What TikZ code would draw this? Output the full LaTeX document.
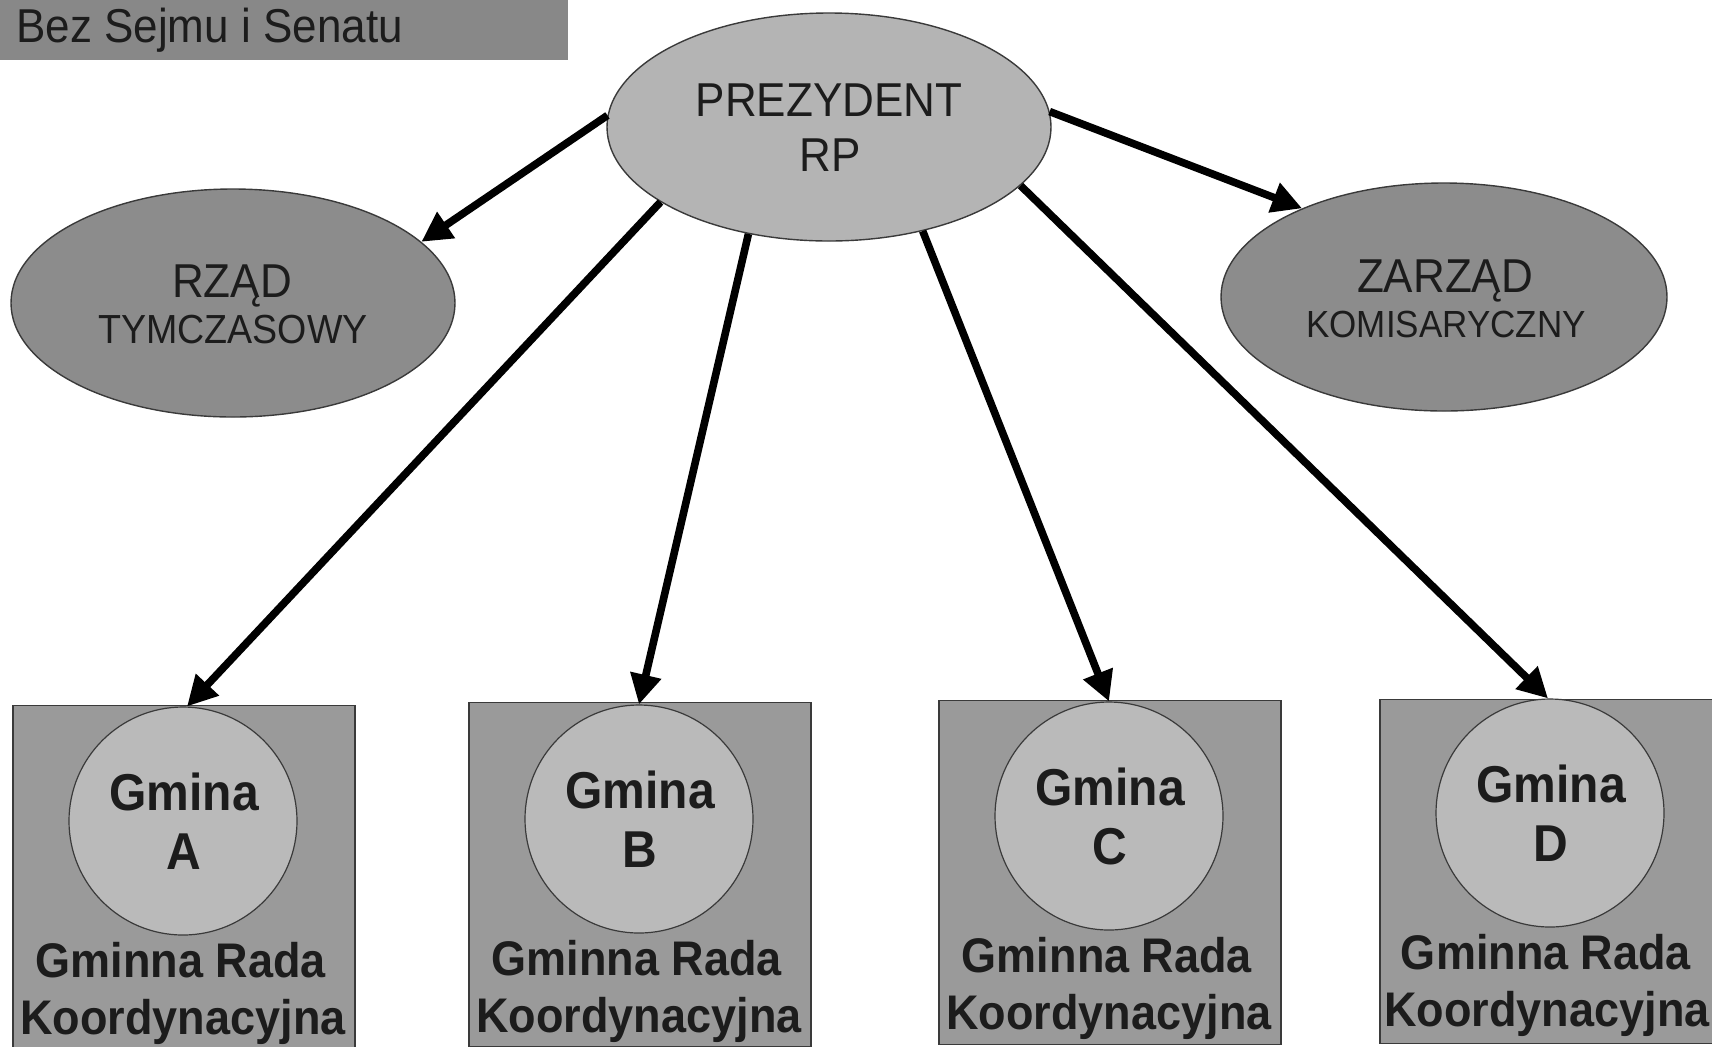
\documentclass[tikz,border=0pt]{standalone}
\usepackage{graphicx}
\usepackage{fontspec}
\setmainfont{Liberation Sans}
\usetikzlibrary{arrows.meta,shapes.geometric}
\definecolor{hdrfill}{HTML}{888888}
\definecolor{prezfill}{HTML}{B4B4B4}
\definecolor{darkell}{HTML}{8C8C8C}
\definecolor{sqfill}{HTML}{9A9A9A}
\definecolor{circfill}{HTML}{BABABA}
\definecolor{txt}{HTML}{1C1C1C}
\definecolor{edge}{HTML}{3A3A3A}
\newcommand{\vstr}[1]{\scalebox{1}[1.08]{#1}}
\tikzset{
  ellbase/.style={ellipse, draw=edge, line width=0.7pt, inner sep=0pt, minimum width=222pt, minimum height=114pt},
  prezell/.style={ellbase, fill=prezfill},
  sideell/.style={ellbase, fill=darkell},
  sqbox/.style={rectangle, draw=edge, line width=0.7pt, fill=sqfill, inner sep=0pt, minimum width=171pt, minimum height=172pt, anchor=north},
  gcirc/.style={circle, draw=edge, line width=0.6pt, fill=circfill, inner sep=0pt, minimum size=114pt},
  lbl/.style={inner sep=0pt, text=txt, anchor=base},
  bigcap/.style={lbl, font=\fontsize{22}{22}\selectfont},
  smallcap/.style={lbl, font=\fontsize{17.5}{17.5}\selectfont},
  gtxt/.style={lbl, font=\fontsize{22.5}{22.5}\selectfont\bfseries},
  gbig/.style={lbl, font=\fontsize{24}{24}\selectfont\bfseries},
  arr/.style={line width=3.8pt, black, -{Triangle[length=15pt,width=15pt]}}
}
\begin{document}
\begin{tikzpicture}[x=0.5pt,y=-0.5pt]
\useasboundingbox (0,0) rectangle (1712,1046);
\begin{scope}
\clip (0,0) rectangle (1712,1046);
% header
\node[fill=hdrfill, inner sep=0pt, minimum width=284pt, minimum height=30pt, anchor=north west] (hdr) at (0,0) {};
\node[lbl, anchor=base west, font=\fontsize{22}{22}\selectfont] (hdrT) at (16,42) {\vstr{Bez Sejmu i Senatu}};
% ellipses
\node[prezell] (prez) at (829,127) {};
\node[sideell] (rzad) at (233,303) {};
\node[sideell, minimum width=223pt] (zarz) at (1444,297) {};
\node[bigcap] (prezT1) at (829,116) {\vstr{PREZYDENT}};
\node[bigcap] (prezT2) at (830,171) {\vstr{RP}};
\node[bigcap] (rzadT1) at (232,297) {\vstr{RZĄD}};
\node[smallcap, font=\fontsize{18.8}{18.8}\selectfont] (rzadT2) at (233,343) {\vstr{TYMCZASOWY}};
\node[bigcap] (zarzT1) at (1445,292) {\vstr{ZARZĄD}};
\node[smallcap] (zarzT2) at (1446,337) {\vstr{KOMISARYCZNY}};
% gmina squares
\node[sqbox] (sqA) at (184,705) {};
\node[sqbox] (sqB) at (640,702) {};
\node[sqbox] (sqC) at (1110,700) {};
\node[sqbox] (sqD) at (1551,699) {};
\node[gcirc] (circA) at (183,821) {};
\node[gcirc] (circB) at (639,819) {};
\node[gcirc] (circC) at (1109,816) {};
\node[gcirc] (circD) at (1550,813) {};
% texts
\node[gbig] (gA1) at (184,810) {\vstr{Gmina}};
\node[gbig] (gA2) at (184,869) {\vstr{A}};
\node[gtxt] (gA3) at (181,977) {\vstr{Gminna Rada}};
\node[gtxt] (gA4) at (183,1034) {\vstr{Koordynacyjna}};
\node[gbig] (gB1) at (640,808) {\vstr{Gmina}};
\node[gbig] (gB2) at (640,867) {\vstr{B}};
\node[gtxt] (gB3) at (637,975) {\vstr{Gminna Rada}};
\node[gtxt] (gB4) at (639,1032) {\vstr{Koordynacyjna}};
\node[gbig] (gC1) at (1110,805) {\vstr{Gmina}};
\node[gbig] (gC2) at (1110,864) {\vstr{C}};
\node[gtxt] (gC3) at (1107,972) {\vstr{Gminna Rada}};
\node[gtxt] (gC4) at (1109,1029) {\vstr{Koordynacyjna}};
\node[gbig] (gD1) at (1551,802) {\vstr{Gmina}};
\node[gbig] (gD2) at (1551,861) {\vstr{D}};
\node[gtxt] (gD3) at (1546,969) {\vstr{Gminna Rada}};
\node[gtxt] (gD4) at (1547,1026) {\vstr{Koordynacyjna}};
% arrows
\draw[arr] (prez.177) -- (rzad.18);
\draw[arr] (prez.204) -- (circA.88);
\draw[arr] (prez.233) -- (circB.90);
\draw[arr] (prez.312) -- (circC.90);
\draw[arr] (prez.343) -- (circD.91);
\draw[arr] (prez.4) -- (zarz.148);
\end{scope}
\end{tikzpicture}
\end{document}
